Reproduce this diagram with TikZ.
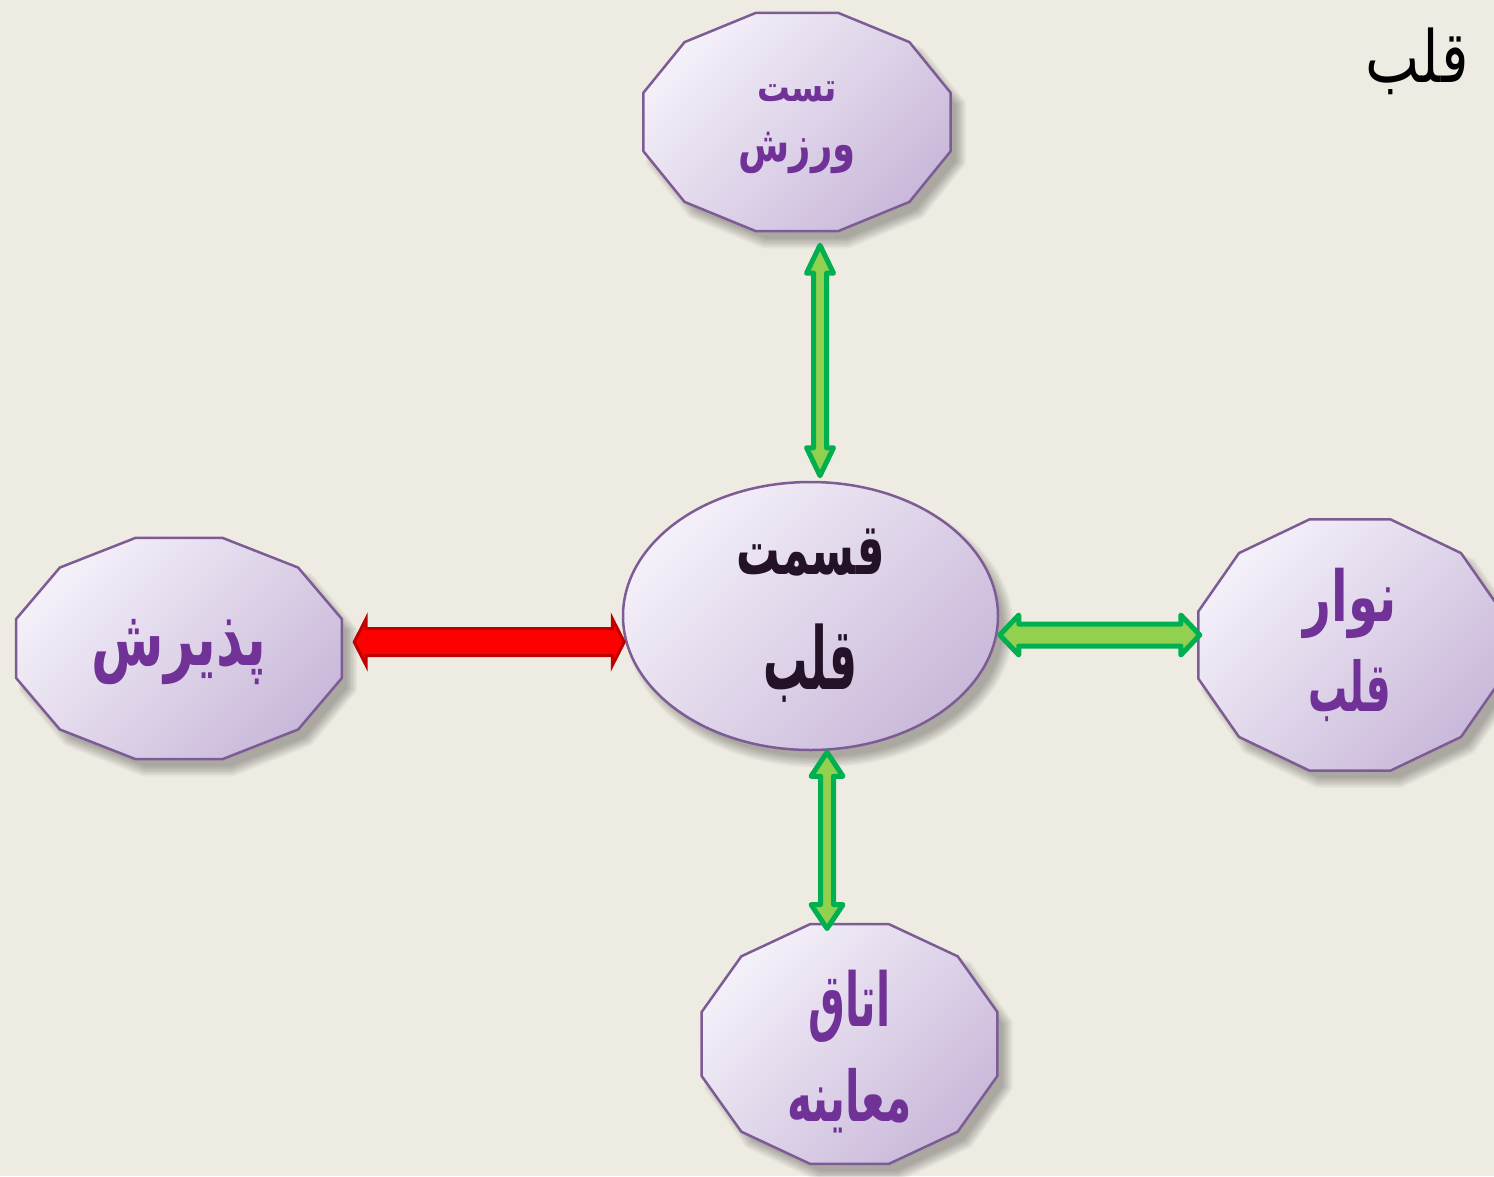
\documentclass[tikz,border=0pt]{standalone}
\usepackage{fontspec}
\usepackage{graphicx}
\usetikzlibrary{calc,shapes.geometric}
\TeXXeTstate=1
\newfontfamily\arabicfont[Script=Arabic]{DejaVu Sans}
\definecolor{bgc}{RGB}{238,236,226}
\definecolor{lavlight}{RGB}{244,240,249}
\definecolor{lavdark}{RGB}{202,185,218}
\definecolor{lavborder}{RGB}{125,92,150}
\definecolor{txtpurple}{RGB}{112,50,150}
\definecolor{txtdark}{RGB}{35,18,40}
\definecolor{grfill}{RGB}{146,208,80}
\definecolor{grline}{RGB}{0,176,80}
\definecolor{rdfill}{RGB}{255,0,0}
\definecolor{rdline}{RGB}{192,0,0}
\newcommand\rl[3]{\scalebox{1}[#3]{\resizebox{#1pt}{!}{\beginR #2\endR}}}
\newcommand\dodecpath[5]{%
  \path[#1] ($(#2,#3)+(15:#4pt and #5pt)$)
    \foreach \a in {45,75,...,345}{ -- ($(#2,#3)+(\a:#4pt and #5pt)$)} -- cycle;}
\newcommand\softshadow[4]{%
  \foreach \i in {0,...,7}{%
    \pgfmathsetmacro\rxx{#3+\i*1.5-4}\pgfmathsetmacro\ryy{#4+\i*1.5-4}%
    \dodecpath{fill=black, opacity=0.04}{#1+9}{#2+11}{\rxx}{\ryy}}}
\newcommand\blockarrow[6]{%
  \path[#1] (#2) -- ($(#2)!#4pt!(#3)!#5pt!90:(#3)$) -- ($(#2)!#4pt!(#3)!#6pt!90:(#3)$)
    -- ($(#3)!#4pt!(#2)!#6pt!-90:(#2)$) -- ($(#3)!#4pt!(#2)!#5pt!-90:(#2)$) -- (#3)
    -- ($(#3)!#4pt!(#2)!#5pt!90:(#2)$) -- ($(#3)!#4pt!(#2)!#6pt!90:(#2)$)
    -- ($(#2)!#4pt!(#3)!#6pt!-90:(#3)$) -- ($(#2)!#4pt!(#3)!#5pt!-90:(#3)$) -- cycle;}
\tikzset{
  boxshape/.style={top color=lavlight, bottom color=lavdark, shading angle=45,
    draw=lavborder, line width=2.5pt, line join=round},
  boxtext/.style={rectangle, inner sep=0pt, align=center, text=txtpurple},
  greenarrow/.style={fill=grfill, draw=grline, line width=5pt, line join=round},
  redarrow/.style={fill=rdfill, draw=rdline, line width=3pt, line join=miter},
}
\begin{document}
\begin{tikzpicture}[x=1pt, y=-1pt]
\fill[bgc] (0,0) rectangle (1494,1176);
\useasboundingbox (0,0) rectangle (1494,1176);
% shadows
\softshadow{797}{122}{159}{113}
\softshadow{179}{648.5}{168.5}{114.5}
\softshadow{1350}{645}{157}{130}
\softshadow{849.5}{1044}{153}{124}
\foreach \i in {0,...,7}{%
  \fill[black, opacity=0.04] (819.5,627) ellipse [x radius={183.5pt+\i*1.5pt}, y radius={130pt+\i*1.5pt}];}
% dodecagon shapes
\dodecpath{boxshape}{797}{122}{159}{113}
\dodecpath{boxshape}{179}{648.5}{168.5}{114.5}
\dodecpath{boxshape}{1350}{645}{157}{130}
\dodecpath{boxshape}{849.5}{1044}{153}{124}
% nodes
\node[boxtext, minimum width=307pt, minimum height=219pt,
  font=\arabicfont\bfseries\fontsize{30}{60}\selectfont] (top) at (797,128)
  {\rl{80}{تست}{1.25}\\\rl{117}{ورزش}{1.35}};
\node[boxtext, minimum width=326pt, minimum height=221pt,
  font=\arabicfont\bfseries\fontsize{40}{60}\selectfont] (left) at (179,652)
  {\rl{175}{پذیرش}{1.5}};
\node[boxtext, minimum width=303pt, minimum height=251pt,
  font=\arabicfont\bfseries\fontsize{40}{90}\selectfont] (right) at (1350,645)
  {\rl{93}{نوار}{1.45}\\\rl{83}{قلب}{1.75}};
\node[boxtext, minimum width=296pt, minimum height=240pt,
  font=\arabicfont\bfseries\fontsize{40}{95}\selectfont] (bot) at (849.5,1052)
  {\rl{82}{اتاق}{1.8}\\\rl{125}{معاینه}{1.65}};
\node[ellipse, boxshape, minimum width=375pt, minimum height=268pt, inner sep=0pt,
  align=center, text=txtdark, font=\arabicfont\bfseries\fontsize{50}{115}\selectfont] (ctr) at (810.5,616)
  {\rl{148}{قسمت}{1.65}\\\rl{94}{قلب}{1.95}};
% connectors
\coordinate (t1) at ([shift={(23,7.5)}]top.south);
\coordinate (t2) at ([shift={(9.5,-5)}]ctr.north);
\blockarrow{greenarrow}{t1}{t2}{28}{13.5}{6.5}
\coordinate (b1) at ([shift={(16.5,1)}]ctr.south);
\coordinate (b2) at ([shift={(-22.5,-3.2)}]bot.north);
\blockarrow{greenarrow}{b1}{b2}{24}{16}{6.5}
\coordinate (r1) at ([shift={(0.5,19)}]ctr.east);
\coordinate (r2) at ([shift={(1.5,-10)}]right.west);
\blockarrow{greenarrow}{r1}{r2}{19}{20}{11}
\coordinate (l1) at ([shift={(12,-10)}]left.east);
\coordinate (l2) at ([shift={(2.5,26)}]ctr.west);
\blockarrow{redarrow}{l1}{l2}{12}{23.5}{13.5}
% title
\node[inner sep=0pt, font=\arabicfont] (title) at (1417,61) {\rl{103}{قلب}{1.25}};
\end{tikzpicture}
\end{document}
